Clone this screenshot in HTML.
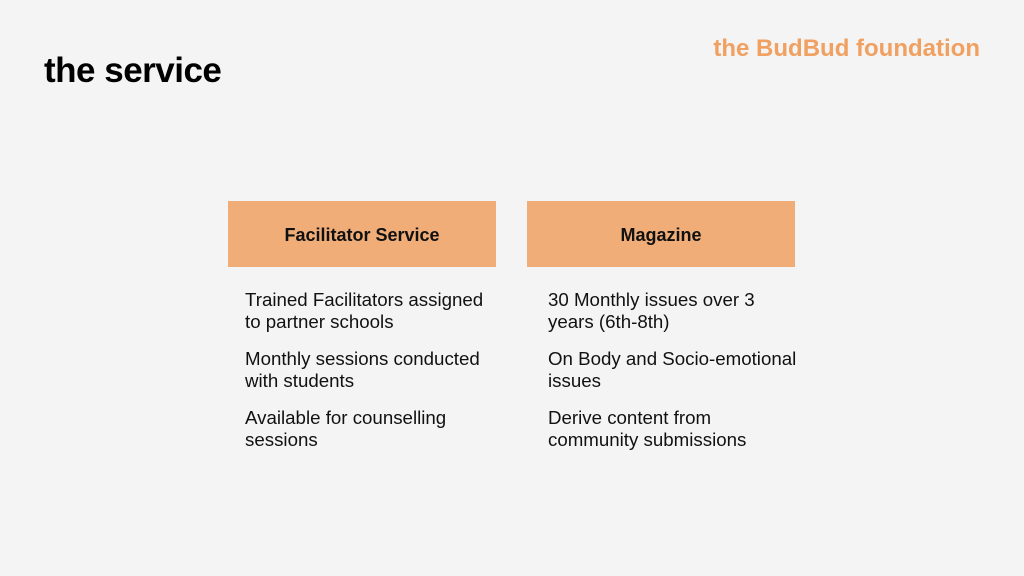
<!DOCTYPE html>
<html><head><meta charset="utf-8"><style>
body{margin:0;width:1024px;height:576px;background:#f4f4f4;position:relative;overflow:hidden;font-family:"Liberation Sans",sans-serif;color:#111}
.t{position:absolute;left:44px;top:51px;font-size:35px;font-weight:bold;letter-spacing:-0.5px;color:#000}
.b{position:absolute;right:44px;top:35px;font-size:24px;font-weight:bold;color:#f0a060}
.box{position:absolute;top:201px;width:268px;height:66px;background:#f0ad77;display:flex;align-items:center;justify-content:center;font-weight:bold;font-size:18px;padding-top:2px;box-sizing:border-box}
.l{position:absolute;font-size:18.7px;line-height:22px}
.l p{margin:0 0 15px 0}
</style></head><body>
<div class="t">the service</div>
<div class="b">the BudBud foundation</div>
<div class="box" style="left:228px">Facilitator Service</div>
<div class="box" style="left:527px">Magazine</div>
<div class="l" style="left:245px;top:289px;width:280px">
<p>Trained Facilitators assigned<br>to partner schools</p>
<p>Monthly sessions conducted<br>with students</p>
<p>Available for counselling<br>sessions</p></div>
<div class="l" style="left:548px;top:289px;width:290px">
<p>30 Monthly issues over 3<br>years (6th-8th)</p>
<p>On Body and Socio-emotional<br>issues</p>
<p>Derive content from<br>community submissions</p></div>
</body></html>
